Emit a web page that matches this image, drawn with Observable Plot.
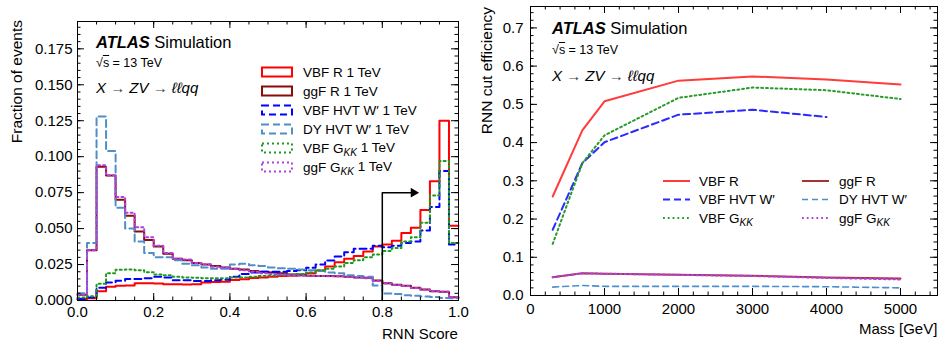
<!DOCTYPE html>
<html><head><meta charset="utf-8">
<script src="https://cdn.jsdelivr.net/npm/d3@7"></script>
<script src="https://cdn.jsdelivr.net/npm/@observablehq/plot@0.6"></script>
<style>
body{margin:0;background:#fff;font-family:"Liberation Sans",Arial,Helvetica,sans-serif;}
#wrap{position:relative;width:939px;height:342px;overflow:hidden;background:#fff}
.panel{position:absolute;top:0}
.ov{position:absolute;white-space:nowrap;color:#000;line-height:1}
.atlas{font-size:16.5px}
.atlas b{font-style:italic;font-weight:bold}
.sqrts{font-size:12.5px}
.proc{font-size:15px;font-style:italic}
.proc .ar{font-style:normal;color:#444}
.ylab{font-size:15.5px;transform-origin:0 0;transform:rotate(-90deg) translate(-100%,-50%)}
.xlab{font-size:15px}
svg.leg{position:absolute;left:0;top:0;pointer-events:none}
</style></head><body>
<div id="wrap">
  <div id="left" class="panel" style="left:0"></div>
  <div id="right" class="panel" style="left:470px"></div>
</div>
<script>
// ---------------- data: left panel (RNN score histograms, bin low edges) ----------------
const scoreBins = [0.000,0.025,0.050,0.075,0.100,0.125,0.150,0.175,0.200,0.225,
                   0.250,0.275,0.300,0.325,0.350,0.375,0.400,0.425,0.450,0.475,
                   0.500,0.525,0.550,0.575,0.600,0.625,0.650,0.675,0.700,0.725,
                   0.750,0.775,0.800,0.825,0.850,0.875,0.900,0.925,0.950,0.975];
const scoreMax = 1.0;
const histVBFR = [0.001,0.0015,0.0065,0.0095,0.0103,0.0105,0.012,0.012,0.0118,0.0113,
                  0.0113,0.0112,0.0113,0.0125,0.0128,0.013,0.0142,0.0148,0.0157,0.016,
                  0.0165,0.017,0.0172,0.018,0.019,0.0208,0.0236,0.0266,0.029,0.031,
                  0.034,0.0375,0.039,0.0415,0.047,0.0505,0.063,0.083,0.125,0.052];
const histggFR = [0.004,0.035,0.093,0.087,0.070,0.059,0.048,0.042,0.0375,0.0325,
                  0.029,0.028,0.026,0.025,0.024,0.023,0.022,0.0215,0.0205,0.020,
                  0.0195,0.019,0.018,0.0175,0.0172,0.017,0.017,0.0168,0.0165,0.016,
                  0.0158,0.0139,0.012,0.011,0.0102,0.0088,0.0076,0.0065,0.006,0.0023];
const histVBFHVT = [0.001,0.002,0.0088,0.0125,0.0138,0.015,0.015,0.0155,0.0165,0.016,
                    0.014,0.014,0.0135,0.0135,0.014,0.0145,0.0165,0.0185,0.0195,0.020,
                    0.020,0.020,0.0205,0.021,0.0227,0.025,0.0278,0.0306,0.0336,0.036,
                    0.036,0.038,0.037,0.038,0.040,0.041,0.0486,0.065,0.090,0.039];
const histDYHVT = [0.005,0.040,0.128,0.104,0.0645,0.050,0.041,0.033,0.030,0.030,
                   0.028,0.0255,0.0245,0.023,0.022,0.022,0.025,0.0255,0.0245,0.024,
                   0.023,0.0225,0.022,0.0215,0.021,0.0205,0.0195,0.019,0.0175,0.017,
                   0.0165,0.0105,0.0048,0.0045,0.0037,0.0033,0.0028,0.0024,0.0018,0.0015];
const histVBFGKK = [0.002,0.003,0.0116,0.019,0.0213,0.0215,0.021,0.0197,0.018,0.0175,
                    0.0165,0.016,0.0158,0.0155,0.0155,0.0155,0.016,0.016,0.0165,0.017,
                    0.0172,0.0175,0.018,0.0185,0.0195,0.021,0.022,0.0236,0.026,0.028,
                    0.030,0.032,0.0345,0.0365,0.041,0.044,0.054,0.073,0.097,0.040];
const histggFGKK = [0.004,0.035,0.094,0.087,0.072,0.061,0.051,0.044,0.038,0.033,
                    0.029,0.0285,0.026,0.025,0.0235,0.023,0.022,0.021,0.020,0.019,
                    0.0185,0.018,0.0175,0.0172,0.017,0.017,0.0168,0.0168,0.0165,0.016,
                    0.0155,0.0135,0.0118,0.0108,0.010,0.0087,0.0075,0.0064,0.006,0.0022];
const histLabels = ["VBF R 1 TeV","ggF R 1 TeV","VBF HVT W′ 1 TeV","DY HVT W′ 1 TeV","VBF G_KK 1 TeV","ggF G_KK 1 TeV"];
const cutScore = 0.8, cutArrowY = 0.075, cutArrowEnd = 0.882;

// ---------------- data: right panel (efficiency vs mass) ----------------
const masses = [300,700,1000,2000,3000,4000,5000];
const effVBFR   = [0.259,0.432,0.508,0.562,0.573,0.565,0.552];
const effggFR   = [0.048,0.058,0.057,0.054,0.0515,0.047,0.0445];
const effVBFHVT = [0.172,0.346,0.401,0.473,0.486,0.467];
const effDYHVT  = [0.022,0.026,0.024,0.024,0.024,0.023,0.020];
const effVBFGKK = [0.135,0.346,0.419,0.517,0.544,0.537,0.514];
const effggFGKK = [0.048,0.058,0.057,0.054,0.051,0.046,0.042];
const effLabels = ["VBF R","ggF R","VBF HVT W′","DY HVT W′","VBF G_KK","ggF G_KK"];

// ---------------- ticks ----------------
const xMajorL = [0,0.2,0.4,0.6,0.8,1.0];
const xMinorL = d3.range(0,1.0001,0.05);
const yMajorL = [0,0.025,0.05,0.075,0.1,0.125,0.15,0.175];
const yMinorL = d3.range(0,0.1941,0.005);
const xMajorR = [0,1000,2000,3000,4000,5000];
const xMinorR = d3.range(0,5501,200);
const yMajorR = [0,0.1,0.2,0.3,0.4,0.5,0.6,0.7];
const yMinorR = d3.range(0,0.7561,0.02);

const FONT = '"Liberation Sans", Arial, Helvetica, sans-serif';

// styles
const stylesL = [
  {color:"#ff0000", width:2, dash:null},
  {color:"#8b0a0a", width:2, dash:null},
  {color:"#0000ff", width:2, dash:"7,4"},
  {color:"#4f8fc8", width:2, dash:"7,4"},
  {color:"#1e9a1e", width:2, dash:"2,3"},
  {color:"#b040e0", width:2, dash:"2,3"}
];
const stylesR = [
  {color:"#ff3b3b", width:2, dash:null},
  {color:"#a83232", width:2, dash:null},
  {color:"#2a2aff", width:2, dash:"7,4"},
  {color:"#4a8fd0", width:1.6, dash:"6,4"},
  {color:"#2a9a2a", width:2, dash:"1.8,3"},
  {color:"#b040e0", width:2, dash:"1.8,3"}
];

function tickMarks(xMaj, xMin, yMaj, yMin, iw, ih) {
  const M = 7, m = 3.5, s = {stroke:"black", strokeWidth:1};
  return [
    Plot.tickX(xMin, {x:d=>d, insetTop: ih - m, ...s}),
    Plot.tickX(xMin, {x:d=>d, insetBottom: ih - m, ...s}),
    Plot.tickX(xMaj, {x:d=>d, insetTop: ih - M, ...s}),
    Plot.tickX(xMaj, {x:d=>d, insetBottom: ih - M, ...s}),
    Plot.tickY(yMin, {y:d=>d, insetRight: iw - m, ...s}),
    Plot.tickY(yMin, {y:d=>d, insetLeft: iw - m, ...s}),
    Plot.tickY(yMaj, {y:d=>d, insetRight: iw - M, ...s}),
    Plot.tickY(yMaj, {y:d=>d, insetLeft: iw - M, ...s})
  ];
}

// ---------------- left panel ----------------
const histSeries = [histVBFR, histggFR, histVBFHVT, histDYHVT, histVBFGKK, histggFGKK];
function histPoints(vals) {
  const pts = scoreBins.map((x, i) => ({x, y: vals[i]}));
  pts.push({x: scoreMax, y: vals[vals.length - 1]});
  return pts;
}
const L = {w:470, h:342, ml:77, mr:12, mt:21, mb:42};
const LiW = L.w - L.ml - L.mr, LiH = L.h - L.mt - L.mb;
const leftPlot = Plot.plot({
  width: L.w, height: L.h, marginLeft: L.ml, marginRight: L.mr, marginTop: L.mt, marginBottom: L.mb,
  style: {fontFamily: FONT, background: "white"},
  x: {domain: [0, 1]},
  y: {domain: [0, 0.194]},
  marks: [
    ...histSeries.map((v, i) => Plot.line(histPoints(v), {
      x: "x", y: "y", curve: "step-after",
      stroke: stylesL[i].color, strokeWidth: stylesL[i].width, strokeDasharray: stylesL[i].dash
    })),
    Plot.line([{x:cutScore, y:0}, {x:cutScore, y:cutArrowY}, {x:cutArrowEnd, y:cutArrowY}],
      {x:"x", y:"y", stroke:"black", strokeWidth:1.5}),
    Plot.dot([{x:cutArrowEnd, y:cutArrowY}], {x:"x", y:"y", symbol:"triangle", rotate:90, r:3.6, fill:"black", stroke:"none"}),
    Plot.frame({stroke:"black", strokeWidth:1}),
    ...tickMarks(xMajorL, xMinorL, yMajorL, yMinorL, LiW, LiH),
    Plot.axisX(xMajorL, {tickSize:0, tickPadding:6, fontSize:15, tickFormat: d => d.toFixed(1), label:null}),
    Plot.axisY(yMajorL, {tickSize:0, tickPadding:5, fontSize:15, tickFormat: d => d.toFixed(3), label:null})
  ]
});
document.getElementById("left").appendChild(leftPlot);

// ---------------- right panel ----------------
const effSeries = [effVBFR, effggFR, effVBFHVT, effDYHVT, effVBFGKK, effggFGKK];
const R = {w:469, h:342, ml:60, mr:2, mt:6, mb:47};
const RiW = R.w - R.ml - R.mr, RiH = R.h - R.mt - R.mb;
const rightPlot = Plot.plot({
  width: R.w, height: R.h, marginLeft: R.ml, marginRight: R.mr, marginTop: R.mt, marginBottom: R.mb,
  style: {fontFamily: FONT, background: "white"},
  x: {domain: [0, 5500]},
  y: {domain: [0, 0.756]},
  marks: [
    ...effSeries.map((v, i) => Plot.line(v.map((e, j) => ({m: masses[j], e})), {
      x: "m", y: "e", stroke: stylesR[i].color, strokeWidth: stylesR[i].width, strokeDasharray: stylesR[i].dash
    })),
    Plot.frame({stroke:"black", strokeWidth:1}),
    ...tickMarks(xMajorR, xMinorR, yMajorR, yMinorR, RiW, RiH),
    Plot.axisX(xMajorR, {tickSize:0, tickPadding:8, fontSize:15, tickFormat: d => String(d), label:null}),
    Plot.axisY(yMajorR, {tickSize:0, tickPadding:7, fontSize:15, tickFormat: d => d.toFixed(1), label:null})
  ]
});
document.getElementById("right").appendChild(rightPlot);

// ---------------- text overlays ----------------
const wrap = document.getElementById("wrap");
function addDiv(html, cls, left, top, extra) {
  const d = document.createElement("div");
  d.className = "ov " + cls;
  d.innerHTML = html;
  d.style.left = left + "px"; d.style.top = top + "px";
  if (extra) Object.assign(d.style, extra);
  wrap.appendChild(d);
  return d;
}
const atlasHTML = "<b>ATLAS</b> Simulation";
const sqrtsHTML = "√<span style='text-decoration:overline'>s</span> = 13 TeV";
const procHTML = "X <span class='ar'>→</span> ZV <span class='ar'>→</span> ℓℓqq";
addDiv(atlasHTML, "atlas", 96, 34);
addDiv(sqrtsHTML, "sqrts", 96, 57);
addDiv(procHTML, "proc", 96, 80);
addDiv(atlasHTML, "atlas", 552, 20);
addDiv(sqrtsHTML, "sqrts", 552, 44);
addDiv(procHTML, "proc", 552, 68);

addDiv("Fraction of events", "ylab", 17, 20);
addDiv("RNN cut efficiency", "ylab", 487, 7);
const xl1 = addDiv("RNN Score", "xlab", 0, 326);
xl1.style.left = (458 - xl1.offsetWidth) + "px";
const xl2 = addDiv("Mass [GeV]", "xlab", 0, 321);
xl2.style.left = (937 - xl2.offsetWidth) + "px";

// ---------------- legends ----------------
const leg = d3.select(wrap).append("svg").attr("class", "leg").attr("width", 939).attr("height", 342)
  .style("font-family", FONT);
function legText(g, label, x, y, size) {
  const t = g.append("text").attr("x", x).attr("y", y).attr("dy", "0.35em").attr("font-size", size);
  const parts = label.split("_KK");
  t.append("tspan").text(parts[0]);
  if (parts.length > 1) {
    t.append("tspan").attr("font-style", "italic").attr("font-size", size * 0.75).attr("dy", "0.3em").text("KK");
    t.append("tspan").attr("dy", "-0.3em").text(parts[1]);
  }
}
histLabels.forEach((lab, i) => {
  const y = 72 + 19 * i, s = stylesL[i];
  leg.append("rect").attr("x", 262).attr("y", y - 4.5).attr("width", 30).attr("height", 9)
    .attr("fill", "none").attr("stroke", s.color).attr("stroke-width", s.width)
    .attr("stroke-dasharray", s.dash);
  legText(leg, lab, 303, y, 13.5);
});
effLabels.forEach((lab, i) => {
  const col = i % 2, row = Math.floor(i / 2), s = stylesR[i];
  const y = 181 + 18.5 * row;
  const x0 = col === 0 ? 663 : 802;
  leg.append("line").attr("x1", x0).attr("x2", x0 + 27).attr("y1", y).attr("y2", y)
    .attr("stroke", s.color).attr("stroke-width", s.width).attr("stroke-dasharray", s.dash);
  legText(leg, lab, col === 0 ? 699 : 839, y, 13.5);
});
</script>
</body></html>
